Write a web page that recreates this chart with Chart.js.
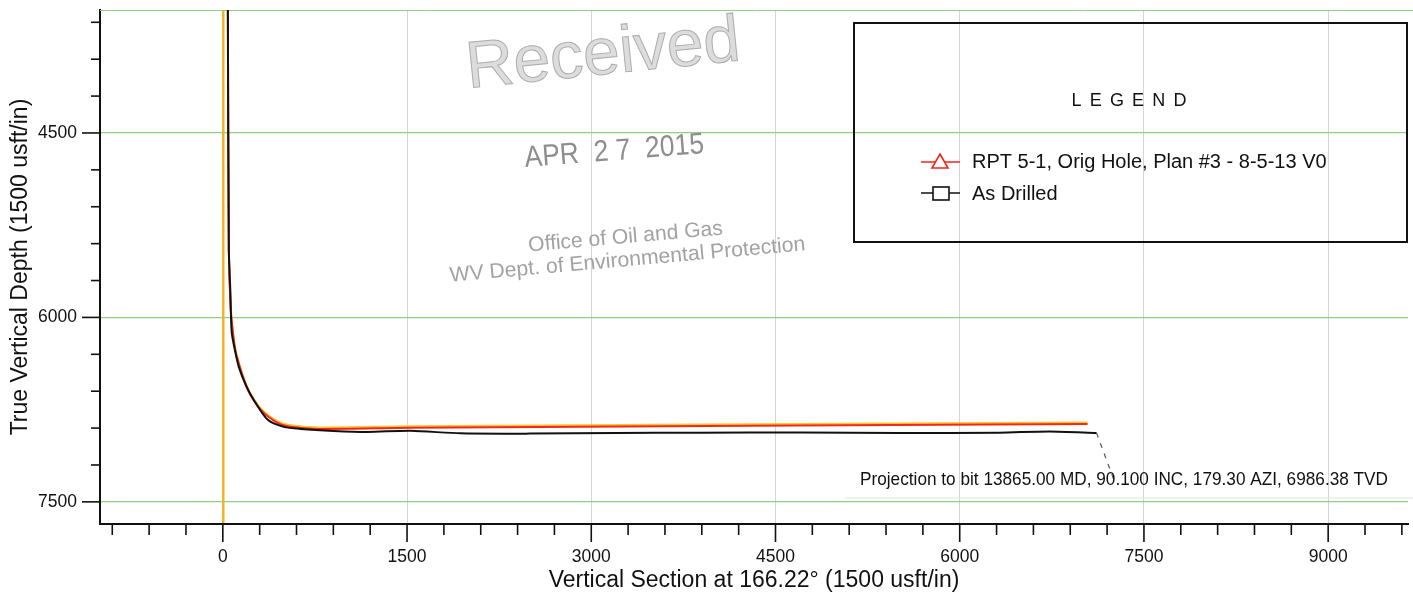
<!DOCTYPE html>
<html>
<head>
<meta charset="utf-8">
<script src="https://cdn.jsdelivr.net/npm/chart.js@4.4.1/dist/chart.umd.min.js"></script>
<style>
  html, body { margin: 0; padding: 0; background: #fff; }
  #wrap { width: 1413px; height: 593px; position: relative; }
</style>
</head>
<body>
<div id="wrap"><canvas id="grafico"></canvas></div>
<script>
// plano do poço (vertical section, TVD)
const planVS  = [41, 49, 65, 89, 114, 203, 309, 447, 553, 772, 1528, 7041];
const planTVD = [3500, 5451, 5939, 6183, 6321, 6589, 6752, 6858, 6890, 6907, 6898, 6866];

// poço perfurado (as drilled)
const drilledVS  = [41, 49, 61, 65, 73, 98, 130, 187, 252, 366, 496, 634, 902, 1179, 1528, 1935, 2500, 3200, 3886, 4700, 5512, 6325, 6732, 7114];
const drilledTVD = [3500, 5451, 5776, 5939, 6126, 6264, 6402, 6549, 6671, 6833, 6890, 6907, 6923, 6931, 6922, 6943, 6945, 6940, 6937, 6935, 6940, 6937, 6927, 6939];

// linha de projeção até a broca
const projVS  = [7114, 7252];
const projTVD = [6939, 7313];

const xMajor = [0, 1500, 3000, 4500, 6000, 7500, 9000];
const yMajor = [4500, 6000, 7500];
const minorStep = 300;

const seriesNames = ['RPT 5-1, Orig Hole, Plan #3 - 8-5-13 V0', 'As Drilled'];
const projLabel = 'Projection to bit 13865.00 MD, 90.100 INC, 179.30 AZI, 6986.38 TVD';

const FONT = "'Liberation Sans', Arial, sans-serif";
const VERDE = '#94cc86';

function pontos(xs, ys) {
    return xs.map((v, i) => ({ x: v, y: ys[i] }));
}

function ticksDe(min, max) {
    const t = [];
    for (let v = Math.ceil(min / minorStep) * minorStep; v <= max; v += minorStep) t.push({ value: v });
    return t;
}

function linha(ctx, x1, y1, x2, y2) {
    ctx.beginPath();
    ctx.moveTo(x1, y1);
    ctx.lineTo(x2, y2);
    ctx.stroke();
}

// texto ajustado a uma largura, com rotação
function textoCarimbo(ctx, txt, cx, cy, ang, font, largura, cor) {
    ctx.save();
    ctx.translate(cx, cy);
    ctx.rotate(ang * Math.PI / 180);
    ctx.font = font;
    const w = ctx.measureText(txt).width;
    ctx.scale(largura / w, 1);
    ctx.textAlign = 'center';
    ctx.textBaseline = 'alphabetic';
    ctx.fillStyle = cor;
    ctx.fillText(txt, 0, 0);
    ctx.restore();
}

const extras = {
    id: 'extras',
    beforeDatasetsDraw(chart) {
        const ctx = chart.ctx;
        const a = chart.chartArea;
        ctx.save();
        // linha verde no topo
        ctx.strokeStyle = VERDE;
        ctx.lineWidth = 1;
        linha(ctx, a.left, a.top + 0.5, chart.width, a.top + 0.5);

        // carimbo
        ctx.save();
        ctx.translate(605, 74);
        ctx.rotate(-5.8 * Math.PI / 180);
        ctx.font = '66px ' + FONT;
        ctx.textAlign = 'center';
        ctx.fillStyle = '#dcdcdc';
        ctx.strokeStyle = '#adadad';
        ctx.lineWidth = 1;
        ctx.fillText('Received', 0, 0);
        ctx.strokeText('Received', 0, 0);
        ctx.restore();
        textoCarimbo(ctx, 'APR  2 7  2015', 615, 160, -4.4, '30px ' + FONT, 180, '#8e8e8e');
        textoCarimbo(ctx, 'Office of Oil and Gas', 626, 243, -5, '21px ' + FONT, 195, '#a2a2a2');
        textoCarimbo(ctx, 'WV Dept. of Environmental Protection', 628, 266, -5.1, '21px ' + FONT, 357, '#a2a2a2');
        ctx.restore();
    },
    // borda amarelada por cima da linha do plano
    beforeDatasetDraw(chart, args) {
        if (args.index === 0) {
            chart.ctx.save();
            chart.ctx.shadowColor = 'rgba(250, 190, 20, 0.9)';
            chart.ctx.shadowOffsetY = -1.5;
            chart.ctx.shadowBlur = 0;
        }
    },
    afterDatasetDraw(chart, args) {
        if (args.index === 0) chart.ctx.restore();
    },
    afterDraw(chart) {
        const ctx = chart.ctx;
        const xs = chart.scales.x, ys = chart.scales.y;
        ctx.save();
        // marcas dos eixos
        ctx.strokeStyle = '#111';
        ctx.lineWidth = 1.6;
        xs.ticks.forEach(t => {
            const px = xs.getPixelForValue(t.value);
            linha(ctx, px, xs.top, px, xs.top + (xMajor.includes(t.value) ? 18 : 11));
        });
        ys.ticks.forEach(t => {
            const py = ys.getPixelForValue(t.value);
            linha(ctx, ys.right, py, ys.right - (yMajor.includes(t.value) ? 18 : 9), py);
        });

        // legenda
        ctx.lineWidth = 2;
        ctx.strokeStyle = '#111';
        ctx.strokeRect(854, 23, 553, 219);
        ctx.fillStyle = '#111';
        ctx.font = '18px ' + FONT;
        ctx.textBaseline = 'alphabetic';
        const letras = 'LEGEND'.split('');
        const esp = 8.2;
        let total = letras.reduce((s, c) => s + ctx.measureText(c).width, 0) + esp * (letras.length - 1);
        let lx = 1129 - total / 2;
        letras.forEach(c => { ctx.fillText(c, lx, 106); lx += ctx.measureText(c).width + esp; });

        const ds = chart.data.datasets;
        ctx.font = '20px ' + FONT;
        // plano: triângulo
        ctx.strokeStyle = ds[0].borderColor;
        ctx.lineWidth = 1.6;
        linha(ctx, 921, 162, 960, 162);
        ctx.beginPath();
        ctx.moveTo(940, 154); ctx.lineTo(948, 168); ctx.lineTo(932, 168); ctx.closePath();
        ctx.fillStyle = '#fff'; ctx.fill(); ctx.stroke();
        ctx.fillStyle = '#111';
        ctx.fillText(ds[0].label, 972, 168);
        // perfurado: quadrado
        ctx.strokeStyle = ds[1].borderColor;
        linha(ctx, 921, 193, 960, 193);
        ctx.fillStyle = '#fff';
        ctx.fillRect(933, 187, 16, 13);
        ctx.strokeRect(933, 187, 16, 13);
        ctx.fillStyle = '#111';
        ctx.fillText(ds[1].label, 972, 200);

        // rótulo da projeção
        ctx.strokeStyle = '#e2e2e2';
        ctx.lineWidth = 1;
        linha(ctx, 845, 498, chart.width, 498);
        ctx.font = '19px ' + FONT;
        const w = ctx.measureText(projLabel).width;
        ctx.save();
        ctx.translate(860, 485);
        ctx.scale(528 / w, 1);
        ctx.fillStyle = '#111';
        ctx.fillText(projLabel, 0, 0);
        ctx.restore();
        ctx.restore();
    }
};

new Chart(document.getElementById('grafico'), {
    type: 'scatter',
    data: {
        datasets: [
            {
                label: seriesNames[0],
                data: pontos(planVS, planTVD),
                showLine: true,
                borderColor: '#f2261a',
                borderWidth: 2,
                pointRadius: 0,
                tension: 0.25,
                order: 2
            },
            {
                label: seriesNames[1],
                data: pontos(drilledVS, drilledTVD),
                showLine: true,
                borderColor: '#111111',
                borderWidth: 2,
                pointRadius: 0,
                tension: 0.25,
                order: 1
            },
            {
                label: 'projection',
                data: pontos(projVS, projTVD),
                showLine: true,
                borderColor: '#555',
                borderWidth: 1.2,
                borderDash: [5, 6],
                pointRadius: 0,
                order: 0
            }
        ]
    },
    options: {
        responsive: true,
        maintainAspectRatio: false,
        animation: false,
        layout: { padding: { top: 10, right: 5, left: 0, bottom: 0 } },
        plugins: {
            legend: { display: false },
            tooltip: { enabled: false }
        },
        scales: {
            x: {
                type: 'linear',
                min: -1000,
                max: 9650,
                afterBuildTicks: s => { s.ticks = ticksDe(s.min, s.max); },
                afterFit: s => { s.height = 69; s.paddingLeft = 0; s.paddingRight = 0; },
                border: { color: '#111', width: 2 },
                grid: {
                    drawTicks: false,
                    color: c => c.tick && c.tick.value === 0 ? '#f5b21c'
                        : (c.tick && xMajor.includes(c.tick.value) ? '#d4d4d4' : 'rgba(0,0,0,0)'),
                    lineWidth: c => c.tick && c.tick.value === 0 ? 2.5 : 1
                },
                ticks: {
                    autoSkip: false,
                    maxRotation: 0,
                    padding: 23,
                    color: '#111',
                    font: { family: FONT, size: 17.5 },
                    callback: v => xMajor.includes(v) ? String(v) : ''
                },
                title: {
                    display: true,
                    text: 'Vertical Section at 166.22° (1500 usft/in)',
                    color: '#111',
                    font: { family: FONT, size: 23, lineHeight: 1.1 },
                    padding: { top: 0, bottom: 0 }
                }
            },
            y: {
                type: 'linear',
                reverse: true,
                min: 3500,
                max: 7680,
                afterBuildTicks: s => { s.ticks = ticksDe(s.min, s.max); },
                afterFit: s => { s.width = 100; s.paddingTop = 0; s.paddingBottom = 0; },
                border: { color: '#111', width: 2 },
                grid: {
                    drawTicks: false,
                    color: c => c.tick && yMajor.includes(c.tick.value) ? VERDE : 'rgba(0,0,0,0)',
                    lineWidth: 1.2
                },
                ticks: {
                    autoSkip: false,
                    padding: 23,
                    color: '#111',
                    font: { family: FONT, size: 17.5 },
                    callback: v => yMajor.includes(v) ? String(v) : ''
                },
                title: {
                    display: true,
                    text: 'True Vertical Depth (1500 usft/in)',
                    color: '#111',
                    font: { family: FONT, size: 23, lineHeight: 1.1 },
                    padding: { top: 8, bottom: 0 }
                }
            }
        }
    },
    plugins: [extras]
});
</script>
</body>
</html>
